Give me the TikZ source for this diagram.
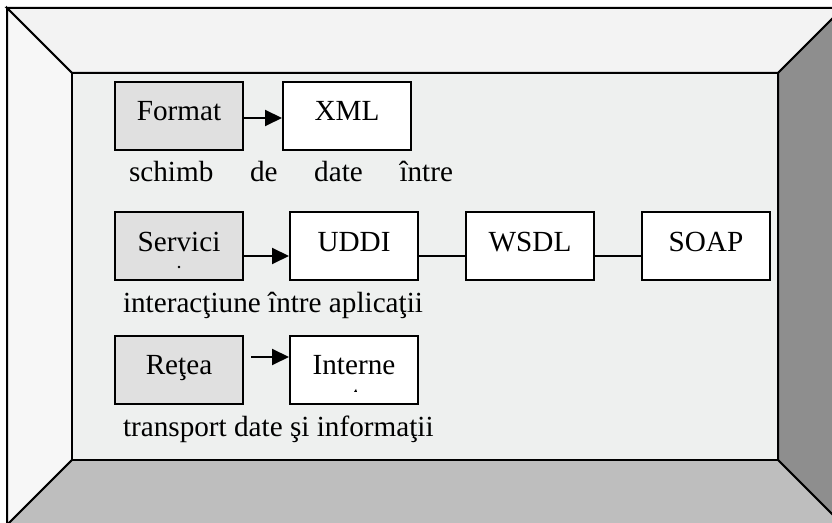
\documentclass[tikz,border=0pt]{standalone}
\usepackage{fontspec}
\setmainfont{Liberation Serif}
\usetikzlibrary{arrows.meta,positioning}

\definecolor{topwall}{HTML}{F3F3F3}
\definecolor{leftwall}{HTML}{F7F7F7}
\definecolor{rightwall}{HTML}{8E8E8E}
\definecolor{floorwall}{HTML}{BEBEBE}
\definecolor{backwall}{HTML}{EEF0EF}
\definecolor{boxgrey}{HTML}{E0E0E0}

\begin{document}
\begin{tikzpicture}[
        x=0.5pt, y=-0.5pt,
        node distance=20pt and 20pt,
        line width=1pt,
        box/.style={draw, minimum width=64pt, minimum height=34pt, inner sep=0pt,
            text height=10.5pt, text depth=5.5pt, font=\fontsize{14.6}{17}\selectfont},
        greybox/.style={box, fill=boxgrey},
        whitebox/.style={box, fill=white},
        caption/.style={anchor=base west, inner sep=0pt, font=\fontsize{14.6}{17}\selectfont},
        link/.style={-{Triangle[length=8.5pt,width=8pt]}}
    ]

    \clip (0,0) rectangle (832,523);

    % Room
    \filldraw[fill=topwall] (7,8) -- (843,8) -- (778,73) -- (72,73) -- cycle;
    \filldraw[fill=leftwall] (7,8) -- (72,73) -- (72,460) -- (7,525) -- cycle;
    \filldraw[fill=rightwall] (843,8) -- (778,73) -- (778,460) -- (843,525) -- cycle;
    \filldraw[fill=floorwall] (72,460) -- (778,460) -- (843,525) -- (7,525) -- cycle;
    \filldraw[fill=backwall] (72,73) rectangle (778,460);

    % Nodes
    \node (format) [greybox] at (179,116) {Format};
    \node (xml) [whitebox, right=19pt of format] {XML};

    \node (servici) [greybox] at (179,246.5) {Servici};
    \node (uddi) [whitebox, right=22.5pt of servici] {UDDI};
    \node (wsdl) [whitebox, right=23pt of uddi] {WSDL};
    \node (soap) [whitebox, right=23pt of wsdl] {SOAP};

    \node (retea) [greybox] at (179,370) {Reţea};
    \node (internet) [whitebox, right=22.5pt of retea] {Interne};

    % Captions
    \node (cformat) [caption] at (128,182)
        {\makebox[162pt][s]{schimb\hfill de\hfill date\hfill între}};
    \node (cservici) [caption] at (122,313) {interacţiune între aplicaţii};
    \node (cretea) [caption] at (122,437) {transport date şi informaţii};

    % cut-off letters
    \fill (179,267) circle (0.7pt);
    \fill (354,392) -- (356,389) -- (357,392) -- cycle;

    % Edges
    \draw[link] ([yshift=-1pt]format.east) -- ([yshift=-1pt]xml.west);
    \draw[link] ([yshift=-4.75pt]servici.east) -- ([yshift=-4.75pt]uddi.west);
    \draw ([yshift=-4.75pt]uddi.east) -- ([yshift=-4.75pt]wsdl.west);
    \draw ([yshift=-4.75pt]wsdl.east) -- ([yshift=-4.75pt]soap.west);
    \draw[link, shorten <=3.5pt] ([yshift=6.5pt]retea.east) -- ([yshift=6.5pt]internet.west);

\end{tikzpicture}
\end{document}
